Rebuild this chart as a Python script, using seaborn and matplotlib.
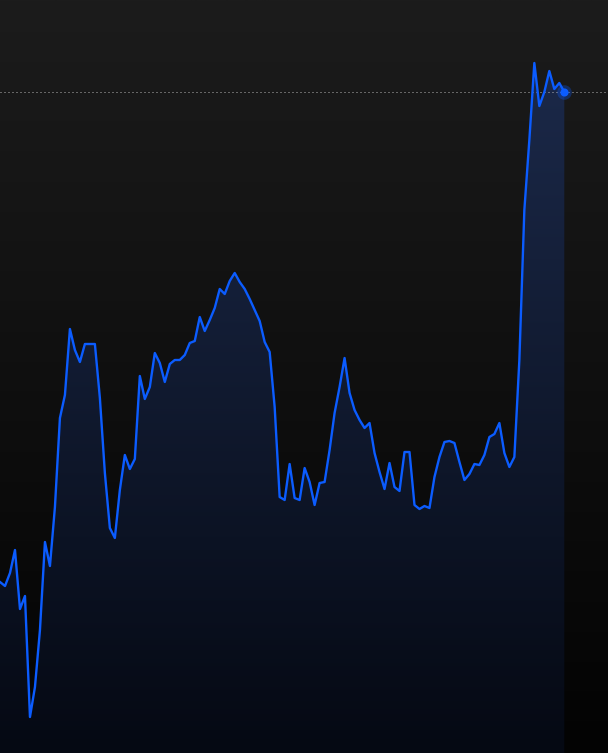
import numpy as np
import pandas as pd
import seaborn as sns
import matplotlib.pyplot as plt
from matplotlib.colors import to_rgb

# price series, one point per step
prices = [17.1, 16.7, 18.0, 20.3, 14.4, 15.7, 3.6, 6.6, 12.3, 21.1,
          18.7, 24.6, 33.5, 35.8, 42.4, 40.3, 39.1, 40.9, 40.9, 40.9,
          35.5, 28.0, 22.5, 21.5, 26.3, 29.8, 28.4, 29.4, 37.7, 35.4,
          36.6, 40.0, 39.0, 37.1, 38.9, 39.3, 39.3, 39.8, 41.0, 41.2,
          43.6, 42.2, 43.3, 44.5, 46.4, 45.9, 47.2, 48.0, 47.1, 46.4,
          45.4, 44.3, 43.2, 41.1, 40.1, 34.6, 25.6, 25.3, 28.9, 25.5,
          25.3, 28.5, 27.1, 24.8, 27.0, 27.1, 30.3, 34.0, 36.6, 39.5,
          36.0, 34.3, 33.3, 32.5, 33.0, 30.0, 28.1, 26.4, 29.0, 26.6,
          26.2, 30.1, 30.1, 24.8, 24.4, 24.7, 24.5, 27.6, 29.6, 31.1,
          31.2, 31.0, 29.1, 27.3, 27.9, 28.9, 28.8, 29.8, 31.6, 31.9,
          33.0, 30.0, 28.6, 29.6, 39.3, 54.3, 61.3, 69.0, 64.7, 66.1,
          68.2, 66.4, 67.0, 66.1]
steps = list(range(len(prices)))
last_price = prices[-1]

line_color = "#0b5cff"
y_top = 75.3
x_right = 121.75

df = pd.DataFrame({"step": steps, "price": prices})

fig = plt.figure(figsize=(6.08, 7.53), dpi=100)
ax = fig.add_axes([0, 0, 1, 1])
ax.set_xlim(0, x_right)
ax.set_ylim(0, y_top)
ax.axis("off")

# background: vertical gradient, lighter at the top
top_bg = np.array(to_rgb("#1c1c1c"))
bot_bg = np.array(to_rgb("#030303"))
t = np.linspace(0, 1, 256)[:, None]
bg = top_bg * (1 - t) + bot_bg * t
ax.imshow(np.repeat(bg[:, None, :], 2, axis=1), extent=[0, x_right, 0, y_top],
          aspect="auto", zorder=0)

# area under the line, blue gradient clipped to the series
top_fill = np.array([28, 42, 75]) / 255
bot_fill = np.array([5, 9, 19]) / 255
t2 = np.linspace(0, 1, 256)[:, None]
fill = top_fill * (1 - t2) + bot_fill * t2
poly = ax.fill_between(df["step"], df["price"], 0, color="none", lw=0)
img = ax.imshow(np.repeat(fill[:, None, :], 2, axis=1),
                extent=[0, x_right, 0, max(prices) + 2], aspect="auto", zorder=1)
img.set_clip_path(poly.get_paths()[0], transform=ax.transData)
ax.set_ylim(0, y_top)

# dotted reference line at the latest price
ax.axhline(last_price, color="#b4b4b4", lw=0.72, linestyle=(0, (1, 3)), zorder=2)

sns.lineplot(data=df, x="step", y="price", color=line_color, linewidth=1.7,
             ax=ax, zorder=3)
ax.scatter([steps[-1]], [last_price], s=110, color=line_color, alpha=0.3,
           lw=0, zorder=4)
ax.scatter([steps[-1]], [last_price], s=34, color=line_color, lw=0, zorder=5)

ax.set_xlim(0, x_right)
ax.set_ylim(0, y_top)
fig.savefig("out.png", dpi=100)
